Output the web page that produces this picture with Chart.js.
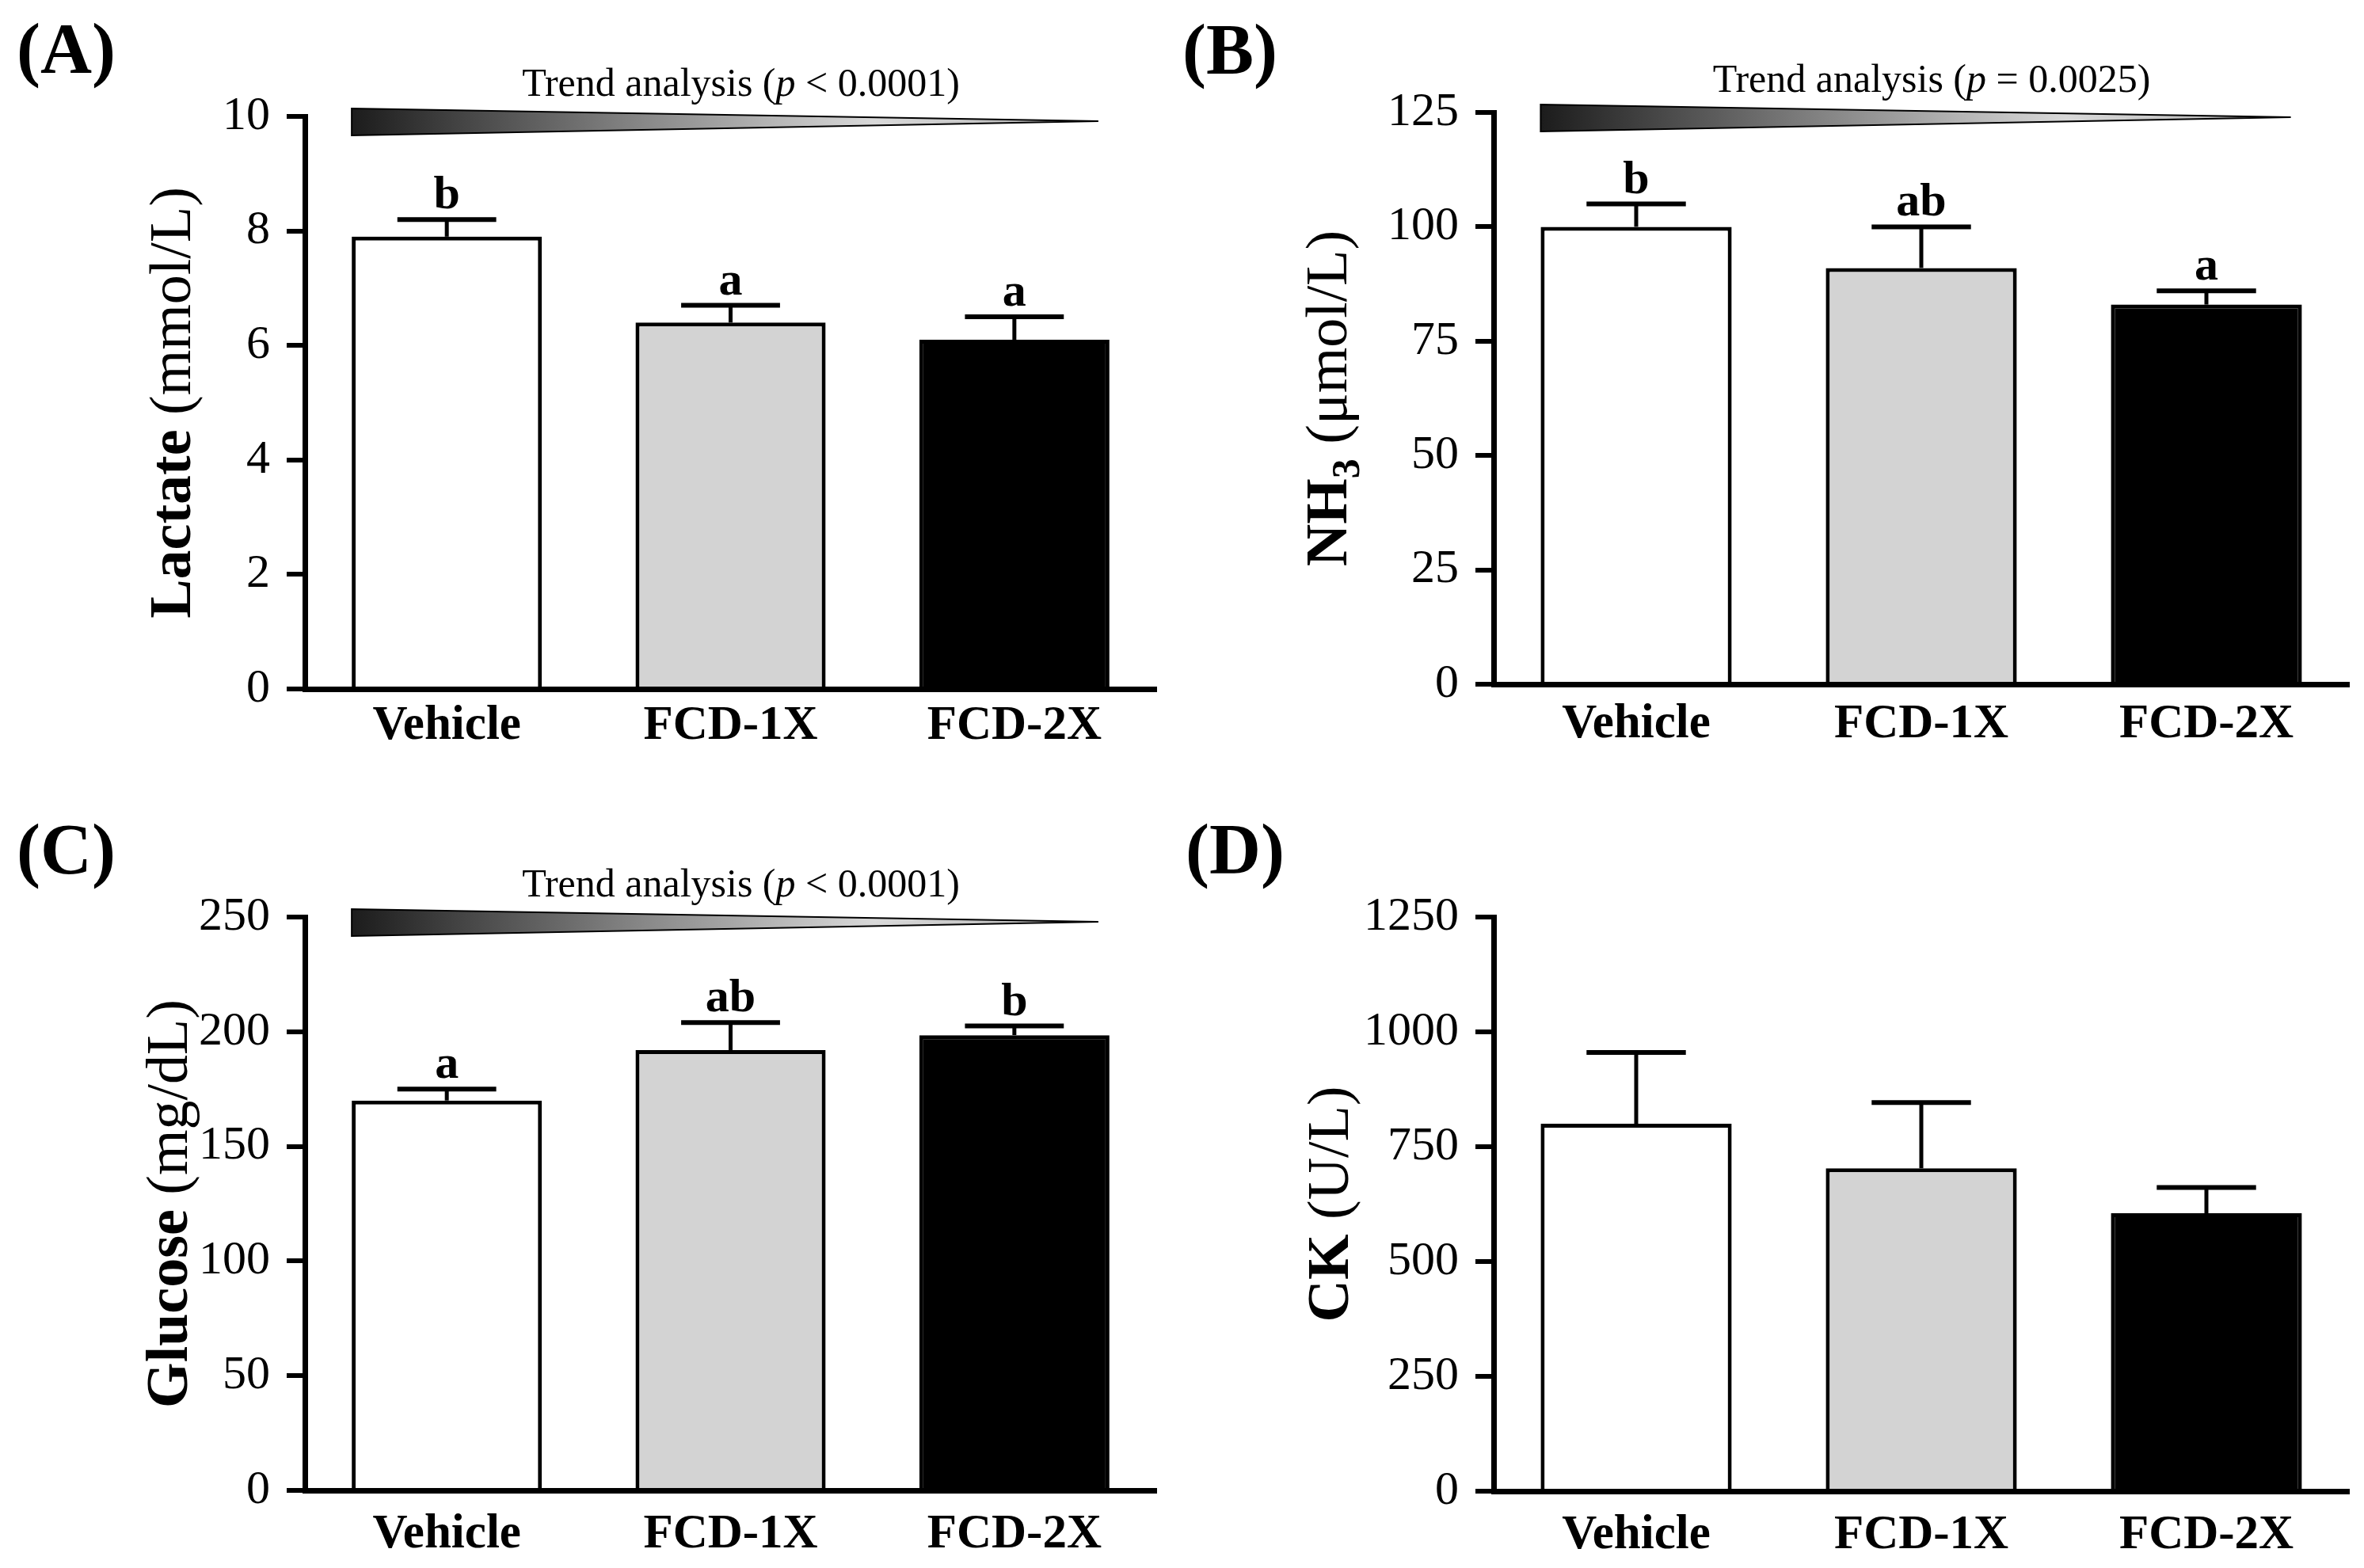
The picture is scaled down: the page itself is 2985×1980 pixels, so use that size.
<!DOCTYPE html>
<html>
<head>
<meta charset="utf-8">
<title>Blood biochemistry</title>
<script src="https://cdn.jsdelivr.net/npm/chart.js@4.4.1/dist/chart.umd.min.js"></script>
<style>
  html, body { margin: 0; padding: 0; background: #fff; }
  #wrap { position: relative; width: 2985px; height: 1980px; overflow: hidden; }
  canvas { position: absolute; }
</style>
</head>
<body>
<div id="wrap">
  <canvas id="chartA" width="1492" height="990" style="left:0;top:0;width:1492px;height:990px"></canvas>
  <canvas id="chartB" width="1493" height="990" style="left:1492px;top:0;width:1493px;height:990px"></canvas>
  <canvas id="chartC" width="1492" height="990" style="left:0;top:990px;width:1492px;height:990px"></canvas>
  <canvas id="chartD" width="1493" height="990" style="left:1492px;top:990px;width:1493px;height:990px"></canvas>
</div>
<script>
// groups and bar fills
const categories = ['Vehicle', 'FCD-1X', 'FCD-2X'];
const barColors = ['#ffffff', '#d3d3d3', '#000000'];

// (A) lactate, mmol/L
const lactateMean = [7.9, 6.4, 6.1];
const lactateSem = [0.3, 0.3, 0.4];
const lactateLetters = ['b', 'a', 'a'];
const lactateTicks = [0, 2, 4, 6, 8, 10];
const lactateTrend = '< 0.0001';

// (B) ammonia, umol/L
const nh3Mean = [100, 91, 83];
const nh3Sem = [5, 9, 3];
const nh3Letters = ['b', 'ab', 'a'];
const nh3Ticks = [0, 25, 50, 75, 100, 125];
const nh3Trend = '= 0.0025';

// (C) glucose, mg/dL
const glucoseMean = [170, 192, 198.5];
const glucoseSem = [5, 12, 4];
const glucoseLetters = ['a', 'ab', 'b'];
const glucoseTicks = [0, 50, 100, 150, 200, 250];
const glucoseTrend = '< 0.0001';

// (D) creatine kinase, U/L
const ckMean = [800, 703, 605];
const ckSem = [155, 143, 56];
const ckTicks = [0, 250, 500, 750, 1000, 1250];

const SERIF = "'Liberation Serif', 'Times New Roman', serif";
Chart.defaults.font.family = SERIF;
Chart.defaults.color = '#000';

// draw a row of differently styled text pieces centred on cx
function drawRuns(ctx, runs, cx, y) {
  let total = 0;
  const widths = runs.map(r => {
    ctx.font = r.font;
    const w = ctx.measureText(r.text).width;
    total += w;
    return w;
  });
  let x = cx - total / 2;
  ctx.textAlign = 'left';
  ctx.textBaseline = 'alphabetic';
  runs.forEach((r, i) => {
    ctx.font = r.font;
    ctx.fillText(r.text, x, y + (r.dy || 0));
    x += widths[i];
  });
}

function titleRuns(parts) {
  return parts.map(([text, kind]) => {
    if (kind === 'b') return { text, font: `bold 74px ${SERIF}` };
    if (kind === 'sub') return { text, font: `bold 50px ${SERIF}`, dy: 16 };
    return { text, font: `74px ${SERIF}` };
  });
}

function makePanel(id, cfg) {
  const decor = {
    id: 'decor' + id,
    afterDatasetsDraw(chart) {
      const ctx = chart.ctx;
      const y = chart.scales.y;
      const meta = chart.getDatasetMeta(0);
      ctx.save();
      ctx.strokeStyle = '#000';
      ctx.fillStyle = '#000';
      ctx.lineCap = 'butt';
      meta.data.forEach((bar, i) => {
        // error bar, upper half only
        const top = y.getPixelForValue(cfg.mean[i] + cfg.sem[i]);
        const half = bar.width * 0.26;
        ctx.lineWidth = 5;
        ctx.beginPath();
        ctx.moveTo(bar.x, bar.y);
        ctx.lineTo(bar.x, top);
        ctx.stroke();
        ctx.lineWidth = 6;
        ctx.beginPath();
        ctx.moveTo(bar.x - half, top);
        ctx.lineTo(bar.x + half, top);
        ctx.stroke();
        if (cfg.letters) {
          ctx.font = `bold 60px ${SERIF}`;
          ctx.textAlign = 'center';
          ctx.textBaseline = 'alphabetic';
          ctx.fillText(cfg.letters[i], bar.x, top - 14);
        }
      });
      ctx.restore();
    },
    afterDraw(chart) {
      const ctx = chart.ctx;
      const area = chart.chartArea;
      ctx.save();
      ctx.fillStyle = '#000';

      // panel letter
      ctx.font = `bold 90px ${SERIF}`;
      ctx.textAlign = 'left';
      ctx.textBaseline = 'alphabetic';
      ctx.fillText(cfg.letter, cfg.letterX, cfg.letterY);

      // y axis title, rotated
      ctx.save();
      ctx.translate(cfg.titleX, (area.top + area.bottom) / 2);
      ctx.rotate(-Math.PI / 2);
      drawRuns(ctx, titleRuns(cfg.title), 0, 0);
      ctx.restore();

      // trend wedge and p value
      if (cfg.trend) {
        const meta = chart.getDatasetMeta(0);
        const first = meta.data[0];
        const last = meta.data[meta.data.length - 1];
        const left = first.x - first.width / 2;
        const right = last.x + last.width / 2 - 14;
        const t = area.top;
        const grad = ctx.createLinearGradient(left, 0, right, 0);
        grad.addColorStop(0, '#1c1c1c');
        grad.addColorStop(0.4, '#8a8a8a');
        grad.addColorStop(0.7, '#d9d9d9');
        grad.addColorStop(1, '#b0b0b0');
        ctx.beginPath();
        ctx.moveTo(left, t - 10);
        ctx.lineTo(right, t + 6);
        ctx.lineTo(left, t + 24);
        ctx.closePath();
        ctx.fillStyle = grad;
        ctx.fill();
        ctx.strokeStyle = '#000';
        ctx.lineWidth = 2;
        ctx.stroke();

        ctx.fillStyle = '#000';
        drawRuns(ctx, [
          { text: 'Trend analysis (', font: `50px ${SERIF}` },
          { text: 'p', font: `italic 50px ${SERIF}` },
          { text: ' ' + cfg.trend + ')', font: `50px ${SERIF}` }
        ], (left + right) / 2 + 20, t - 26);
      }
      ctx.restore();
    }
  };

  const ticks = cfg.ticks;
  return new Chart(document.getElementById(id), {
    type: 'bar',
    data: {
      labels: categories,
      datasets: [{
        data: cfg.mean,
        backgroundColor: barColors,
        borderColor: '#000',
        borderWidth: 5,
        barPercentage: 0.67,
        categoryPercentage: 1
      }]
    },
    options: {
      responsive: false,
      animation: false,
      devicePixelRatio: 1,
      layout: {
        padding: { left: 0, top: cfg.top, right: cfg.padRight, bottom: cfg.padBottom }
      },
      plugins: {
        legend: { display: false },
        tooltip: { enabled: false }
      },
      scales: {
        x: {
          grid: { display: false, drawTicks: false },
          border: { display: true, width: 7, color: '#000' },
          ticks: {
            color: '#000',
            padding: cfg.xPad,
            font: { size: 61, weight: 'bold', family: SERIF }
          },
          afterFit(scale) { scale.height = 90; }
        },
        y: {
          min: ticks[0],
          max: ticks[ticks.length - 1],
          grid: {
            display: true,
            drawOnChartArea: false,
            drawTicks: true,
            tickLength: 23,
            tickWidth: 6,
            tickColor: '#000',
            color: '#000',
            lineWidth: 6
          },
          border: { display: true, width: 7, color: '#000' },
          ticks: {
            color: '#000',
            padding: 21,
            font: { size: 60, family: SERIF },
            callback: value => String(value)
          },
          afterBuildTicks(scale) { scale.ticks = ticks.map(v => ({ value: v })); },
          afterFit(scale) { scale.width = cfg.yWidth; }
        }
      }
    },
    plugins: [decor]
  });
}

makePanel('chartA', {
  letter: '(A)', letterX: 21, letterY: 92,
  title: [['Lactate', 'b'], [' (mmol/L)', 'n']], titleX: 240,
  mean: lactateMean, sem: lactateSem, letters: lactateLetters,
  ticks: lactateTicks, trend: lactateTrend,
  yWidth: 385, top: 147, padRight: 32, padBottom: 30, xPad: 11
});

makePanel('chartB', {
  letter: '(B)', letterX: 1, letterY: 93,
  title: [['NH', 'b'], ['3', 'sub'], [' (\u03bcmol/L)', 'n']], titleX: 208,
  mean: nh3Mean, sem: nh3Sem, letters: nh3Letters,
  ticks: nh3Ticks, trend: nh3Trend,
  yWidth: 394, top: 142, padRight: 19, padBottom: 36, xPad: 15
});

makePanel('chartC', {
  letter: '(C)', letterX: 21, letterY: 113,
  title: [['Glucose', 'b'], [' (mg/dL)', 'n']], titleX: 236,
  mean: glucoseMean, sem: glucoseSem, letters: glucoseLetters,
  ticks: glucoseTicks, trend: glucoseTrend,
  yWidth: 385, top: 168, padRight: 32, padBottom: 8, xPad: 20
});

makePanel('chartD', {
  letter: '(D)', letterX: 5, letterY: 113,
  title: [['CK', 'b'], [' (U/L)', 'n']], titleX: 210,
  mean: ckMean, sem: ckSem, letters: null,
  ticks: ckTicks, trend: null,
  yWidth: 394, top: 168, padRight: 19, padBottom: 7, xPad: 20
});
</script>
</body>
</html>
